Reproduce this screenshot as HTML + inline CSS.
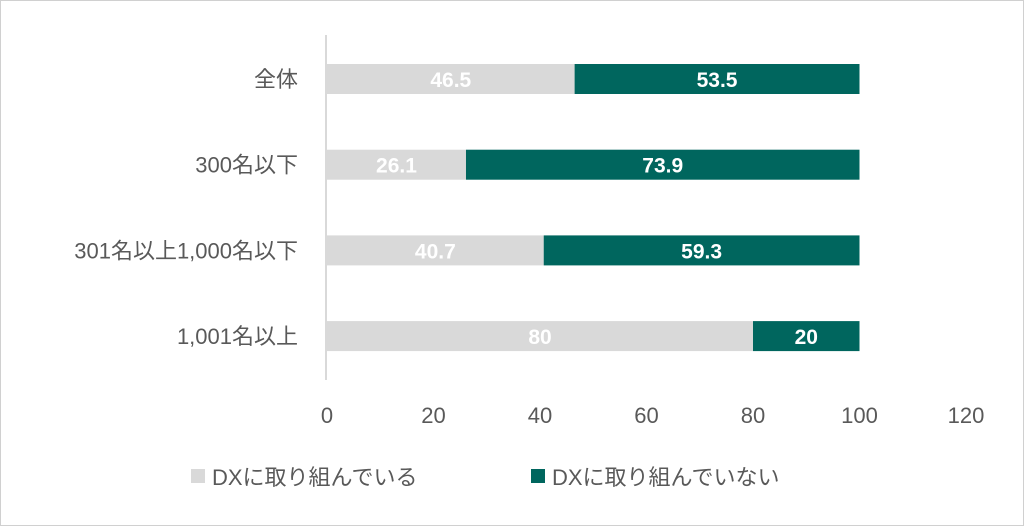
<!DOCTYPE html>
<html><head><meta charset="utf-8"><style>
body{margin:0;background:#fff;}
svg{display:block;font-family:"Liberation Sans","Noto Sans CJK JP",sans-serif;}
</style></head><body>
<svg id="c" width="1024" height="526">
<rect x="0.5" y="0.5" width="1023" height="525" fill="#fff" stroke="#d0d0d0"/>
</svg>
<script>
const categories=["全体","300名以下","301名以上1,000名以下","1,001名以上"];
const seriesA=[46.5,26.1,40.7,80];
const seriesB=[53.5,73.9,59.3,20];
const ticks=[0,20,40,60,80,100,120];
const svg=document.getElementById('c');
const NS='http://www.w3.org/2000/svg';
const x0=327,x1=966,xmax=120;
const X=v=>x0+(x1-x0)*v/xmax;
const Y=i=>79+i*85.7;
const bh=30;
function mk(t,a,txt){const e=document.createElementNS(NS,t);for(const k in a)e.setAttribute(k,a[k]);if(txt!==undefined)e.textContent=txt;svg.appendChild(e);return e;}
let ax=mk('line',{x1:x0-1,x2:x0-1,y1:35,y2:380,stroke:'#d9d9d9','stroke-width':2});


categories.forEach((c,i)=>{
 const y=Y(i);
 let l=mk('text',{x:298,y:y+8,'text-anchor':'end','font-size':22,fill:'#595959'},c);
 
 
 let a=mk('rect',{x:X(0),y:y-bh/2,width:X(seriesA[i])-X(0),height:bh,fill:'#d9d9d9'});
 
 
 let b=mk('rect',{x:X(seriesA[i]),y:y-bh/2,width:X(seriesA[i]+seriesB[i])-X(seriesA[i]),height:bh,fill:'#00665e'});
 
 
 let ta=mk('text',{x:(X(0)+X(seriesA[i]))/2,y:y+8,'text-anchor':'middle','font-size':21,'font-weight':'bold',fill:'#fff'},String(seriesA[i]));
 
 
 let tb=mk('text',{x:(X(seriesA[i])+X(seriesA[i]+seriesB[i]))/2,y:y+8,'text-anchor':'middle','font-size':21,'font-weight':'bold',fill:'#fff'},String(seriesB[i]));
 
 
});
ticks.forEach(t=>{
 let e=mk('text',{x:X(t),y:423,'text-anchor':'middle','font-size':22,fill:'#595959'},String(t));
 
 
});
let s1=mk('rect',{x:191,y:469,width:14,height:14,fill:'#d9d9d9'});


let l1=mk('text',{x:212,y:485,'font-size':22,fill:'#595959'},'DXに取り組んでいる');


let s2=mk('rect',{x:531,y:469,width:14,height:14,fill:'#00665e'});


let l2=mk('text',{x:552,y:485,'font-size':22,fill:'#595959'},'DXに取り組んでいない');


</script>
</body></html>
